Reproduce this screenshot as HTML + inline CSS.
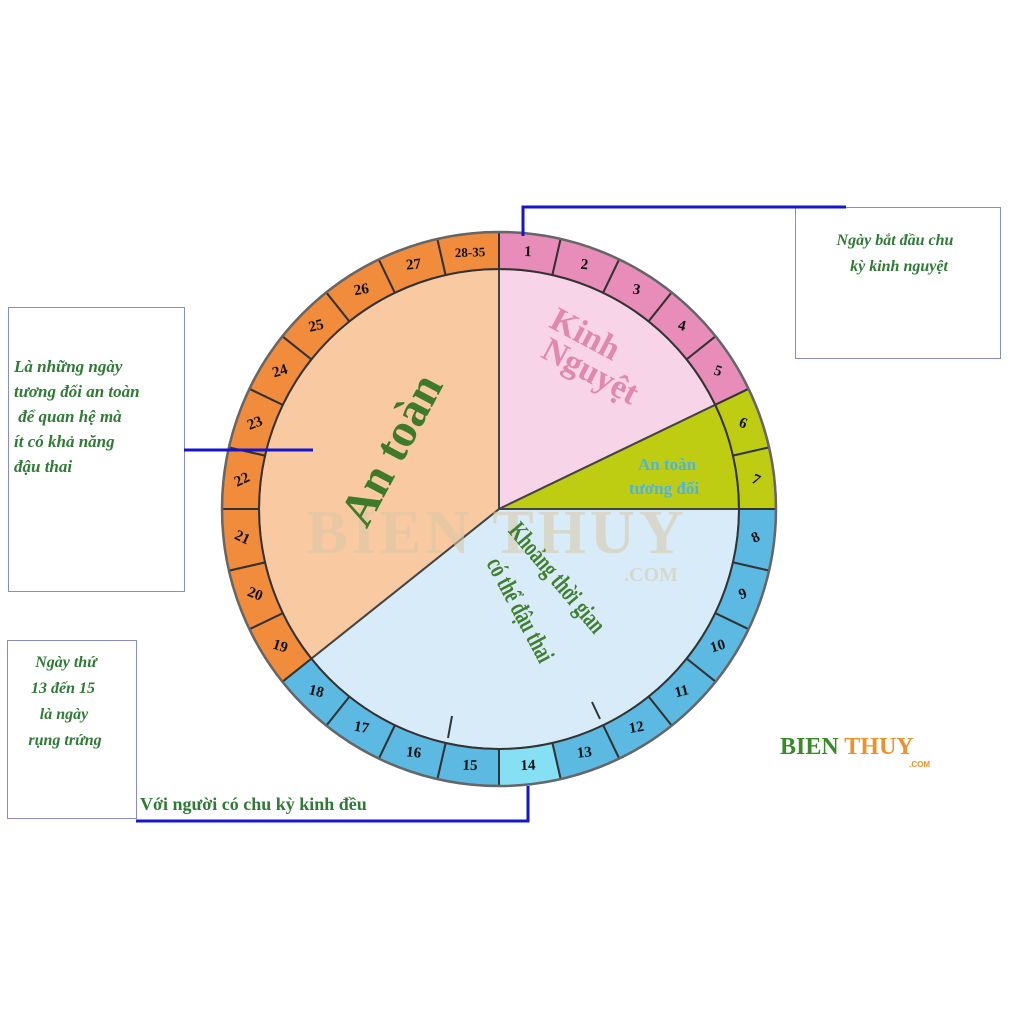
<!DOCTYPE html>
<html><head><meta charset="utf-8">
<style>
body{margin:0;background:#fff;width:1024px;height:1024px;overflow:hidden}
svg{display:block}
.num{font-family:"Liberation Serif",serif;font-weight:bold;font-size:15px;fill:#111}
.note{font-family:"Liberation Serif","DejaVu Serif",serif;font-style:italic;font-weight:bold;font-size:17px;fill:#2f7a35}
</style></head><body>
<svg id="s" width="1024" height="1024" viewBox="0 0 1024 1024" xmlns="http://www.w3.org/2000/svg"></svg>
<script>
const s=document.getElementById('s');
const cx=499,cy=509,R=277,r=240,st=360/28;
function P(rad,a){a=a*Math.PI/180;return [cx+rad*Math.sin(a),cy-rad*Math.cos(a)];}
function sector(a1,a2,fill){const p1=P(r,a1),p2=P(r,a2);const lg=(a2-a1)>180?1:0;
 return `<path d="M${cx},${cy}L${p1}A${r},${r} 0 ${lg} 1 ${p2}Z" fill="${fill}" stroke="#444" stroke-width="2"/>`;}
function cell(a1,a2,fill){const o1=P(R,a1),o2=P(R,a2),i1=P(r,a1),i2=P(r,a2);
 return `<path d="M${o1}A${R},${R} 0 0 1 ${o2}L${i2}A${r},${r} 0 0 0 ${i1}Z" fill="${fill}" stroke="#333" stroke-width="2"/>`;}
let h='';
h+=sector(0,5*st,'#f7d4e7');
h+=sector(5*st,90,'#bfcd12');
h+=sector(90,18*st+0.01,'#d7ebf8');
h+=sector(18*st,360,'#f9c9a1');
const labels=['1','2','3','4','5','6','7','8','9','10','11','12','13','14','15','16','17','18','19','20','21','22','23','24','25','26','27','28-35'];
for(let i=0;i<28;i++){
 let c = i<5?'#e88db9': i<7?'#bfcd12': i<18?'#5cb9e2':'#f08c3c';
 if(i==13)c='#86e0f4';
 h+=cell(i*st,(i+1)*st,c);
}
h+=`<circle cx="${cx}" cy="${cy}" r="${R}" fill="none" stroke="#666" stroke-width="2.5"/>`;
for(let i=0;i<28;i++){
 const a=(i+0.5)*st;const p=P((R+r)/2,a);
 let rot=a; if(a>90&&a<=270)rot=a-180; if(a>270)rot=a-360; rot*=0.3;
 h+=`<text class="num" x="${p[0]}" y="${p[1]}" text-anchor="middle" dominant-baseline="central" transform="rotate(${rot} ${p[0]} ${p[1]})" ${i==27?'style="font-size:13px"':''}>${labels[i]}</text>`;
}
h+=`<line x1="452" y1="716" x2="448" y2="738" stroke="#333" stroke-width="2"/><line x1="592" y1="702" x2="600" y2="719" stroke="#333" stroke-width="2"/>`;
h+=`<text x="497" y="553" text-anchor="middle" font-family="Liberation Serif,serif" font-weight="bold" font-size="62" fill="#d8c8a8" opacity="0.55" letter-spacing="4">BIEN THUY</text>`;
h+=`<text x="651" y="581" text-anchor="middle" font-family="Liberation Serif,serif" font-weight="bold" font-size="20" fill="#d8c8a8" opacity="0.55">.COM</text>`;
h+=`<g transform="translate(392 450) rotate(-62)"><text x="0" y="15" text-anchor="middle" font-family="Liberation Serif,serif" font-weight="bold" font-size="48" fill="#3d7a2a">An toàn</text></g>`;
h+=`<g transform="translate(585 335) rotate(28)"><text x="0" y="10" text-anchor="middle" font-family="Liberation Serif,serif" font-weight="bold" font-size="34" fill="#e088b0">Kinh</text></g>`;
h+=`<g transform="translate(590 372) rotate(28)"><text x="0" y="10" text-anchor="middle" font-family="Liberation Serif,serif" font-weight="bold" font-size="34" fill="#e088b0">Nguyệt</text></g>`;
h+=`<text x="667" y="470" text-anchor="middle" font-family="Liberation Serif,serif" font-weight="bold" font-size="17" fill="#4cb4e0">An toàn</text>`;
h+=`<text x="664" y="494" text-anchor="middle" font-family="Liberation Serif,serif" font-weight="bold" font-size="17" fill="#4cb4e0">tương đối</text>`;
h+=`<g transform="translate(557 578) rotate(50)"><text x="0" y="8" text-anchor="middle" font-family="Liberation Serif,serif" font-weight="bold" font-size="26" fill="#3f7f2e" transform="scale(0.7 1)">Khoảng thời gian</text></g>`;
h+=`<g transform="translate(520 610) rotate(62)"><text x="0" y="8" text-anchor="middle" font-family="Liberation Serif,serif" font-weight="bold" font-size="26" fill="#3f7f2e" transform="scale(0.7 1)">có thể đậu thai</text></g>`;
h+=`<rect x="8.5" y="307.5" width="176" height="284" fill="none" stroke="#8a8ad0" stroke-width="1"/>`;
h+=`<rect x="795.5" y="207.5" width="205" height="151" fill="none" stroke="#8a8ad0" stroke-width="1"/>`;
h+=`<rect x="7.5" y="640.5" width="129" height="178" fill="none" stroke="#8a8ad0" stroke-width="1"/>`;
h+=`<polyline points="523,236 523,207 846,207" fill="none" stroke="#1515d0" stroke-width="3"/>`;
h+=`<line x1="184" y1="450" x2="313" y2="450" stroke="#1515d0" stroke-width="3"/>`;
h+=`<polyline points="528,786 528,821 136,821" fill="none" stroke="#1515d0" stroke-width="3"/>`;
const n1=['Là những ngày','tương đối an toàn',' để quan hệ mà','ít có khả năng','đậu thai'];
n1.forEach((t,i)=>h+=`<text class="note" x="14" y="${372+i*25}" xml:space="preserve">${t}</text>`);
h+=`<text class="note" x="895" y="245" text-anchor="middle" style="font-size:16px">Ngày bắt đầu chu</text>`;
h+=`<text class="note" x="899" y="271" text-anchor="middle" style="font-size:16px">kỳ kinh nguyệt</text>`;
['Ngày thứ','13 đến 15','là ngày','rụng trứng'].forEach((t,i)=>h+=`<text class="note" x="${[66,63,64,65][i]}" y="${667+i*26}" text-anchor="middle" style="font-size:16px">${t}</text>`);
h+=`<text x="140" y="810" font-family="Liberation Serif,serif" font-weight="bold" font-size="18" fill="#2f7a35">Với người có chu kỳ kinh đều</text>`;
h+=`<text x="780" y="754" font-family="Liberation Serif,serif" font-weight="bold" font-size="24" fill="#3a8a2a">BIEN <tspan fill="#f0902a">THUY</tspan></text>`;
h+=`<text x="930" y="767" text-anchor="end" font-family="Liberation Sans,sans-serif" font-weight="bold" font-size="8" fill="#f0902a">.COM</text>`;
s.innerHTML=h;
</script>
</body></html>
